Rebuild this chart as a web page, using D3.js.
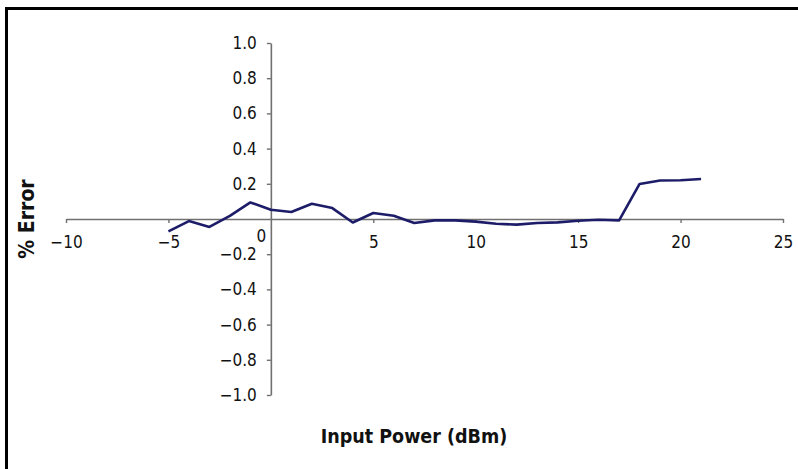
<!DOCTYPE html>
<html>
<head>
<meta charset="utf-8">
<script src="https://cdn.jsdelivr.net/npm/d3@7"></script>
<style>
  html, body { margin: 0; padding: 0; background: #fff; }
  svg { display: block; }
  text { font-family: "Liberation Sans Narrow", "DejaVu Sans Condensed", "Liberation Sans", sans-serif; }
</style>
</head>
<body>
<svg id="chart" width="798" height="469"></svg>
<script>
// Data
const inputPower = [-5, -4, -3, -2, -1, 0, 1, 2, 3, 4, 5, 6, 7, 8, 9, 10, 11, 12, 13, 14, 15, 16, 17, 18, 19, 20, 21];
const percentError = [-0.07, -0.012, -0.045, 0.018, 0.094, 0.053, 0.04, 0.087, 0.062, -0.02, 0.034, 0.018, -0.023, -0.008, -0.008, -0.015, -0.027, -0.032, -0.023, -0.019, -0.01, -0.004, -0.008, 0.199, 0.219, 0.22, 0.227];
const xTicks = [-10, -5, 0, 5, 10, 15, 20, 25];
const yTicks = [-1.0, -0.8, -0.6, -0.4, -0.2, 0.2, 0.4, 0.6, 0.8, 1.0];
const xTitle = "Input Power (dBm)";
const yTitle = "% Error";

const svg = d3.select("#chart");
const W = 798, H = 469;

// Frame (only left and top edges visible)
svg.append("rect")
  .attr("x", 6.5).attr("y", 8.5)
  .attr("width", W + 20).attr("height", H + 20)
  .attr("fill", "none").attr("stroke", "#000").attr("stroke-width", 3);

const x = d3.scaleLinear().domain([-10, 25]).range([66, 783]);
const y = d3.scaleLinear().domain([-1, 1]).range([395, 43]);

const axisColor = "#707070";
const fmt = d3.format(".1f");

// X axis at y = 0
const gx = svg.append("g")
  .attr("transform", `translate(0,${y(0)})`)
  .call(d3.axisBottom(x).tickValues(xTicks).tickSize(4).tickSizeOuter(0).tickPadding(13).tickFormat(d => d3.format("d")(d)));

// Y axis at x = 0
const gy = svg.append("g")
  .attr("transform", `translate(${x(0)},0)`)
  .call(d3.axisLeft(y).tickValues(yTicks).tickSize(4).tickSizeOuter(0).tickPadding(10).tickFormat(fmt));

[gx, gy].forEach(g => {
  g.select(".domain").attr("stroke", axisColor).attr("stroke-width", 1.6);
  g.selectAll(".tick line").attr("stroke", axisColor).attr("stroke-width", 1.4);
  g.selectAll(".tick text").attr("fill", "#111").attr("font-size", 17)
    .attr("font-family", '"Liberation Sans Narrow", "DejaVu Sans Condensed", sans-serif');
});

// "0" label of x axis sits left of the y axis
gx.selectAll(".tick").filter(d => d === 0).select("text")
  .attr("dx", -10).attr("dy", "0.35em");
gx.selectAll(".tick").filter(d => d === 0).select("line").remove();

// Data line
const line = d3.line()
  .x((d, i) => x(inputPower[i]))
  .y(d => y(d));

svg.append("path")
  .datum(percentError)
  .attr("d", line)
  .attr("fill", "none")
  .attr("stroke", "#1c1c68")
  .attr("stroke-width", 2.6)
  .attr("stroke-linejoin", "round");

// Axis titles
svg.append("text")
  .attr("x", 414).attr("y", 443)
  .attr("text-anchor", "middle")
  .attr("font-size", 19.5).attr("font-weight", "bold").attr("fill", "#111")
  .text(xTitle);

svg.append("text")
  .attr("transform", `translate(34,219) rotate(-90)`)
  .attr("text-anchor", "middle")
  .attr("font-size", 21).attr("font-weight", "bold").attr("fill", "#111")
  .text(yTitle);
</script>
</body>
</html>
